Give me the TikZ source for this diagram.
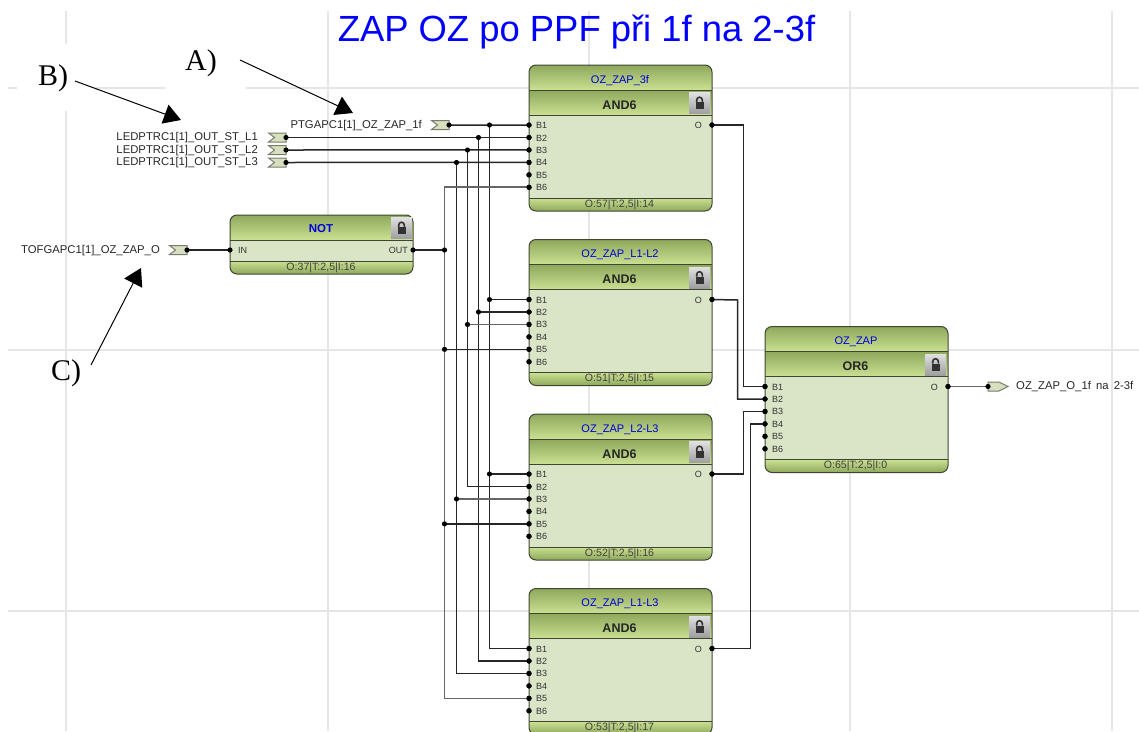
\documentclass[tikz,border=0pt]{standalone}
\usepackage{fontspec}
\setmainfont{Liberation Sans}
\newfontfamily\noteserif{Liberation Serif}
\usetikzlibrary{arrows.meta}

\definecolor{barTop}{RGB}{142,168,92}
\definecolor{barBottom}{RGB}{203,224,146}
\definecolor{bodyGreen}{RGB}{218,228,198}
\definecolor{edgeDark}{RGB}{62,70,50}
\definecolor{gridGray}{RGB}{230,230,230}
\definecolor{flagFill}{RGB}{214,224,190}
\definecolor{flagEdge}{RGB}{120,124,110}

\tikzset{
    blockedge/.style={draw=edgeDark, line width=1pt},
    blocktitle/.style={text=blue!85!black, font=\fontsize{11}{12}\selectfont, inner sep=0pt},
    gatename/.style={font=\bfseries\fontsize{12.5}{13}\selectfont, text=black!85, inner sep=0pt},
    footertext/.style={font=\fontsize{10.6}{11}\selectfont, text=black!75, inner sep=0pt},
    pinlabel/.style={font=\fontsize{9}{10}\selectfont, text=black!80, inner sep=0pt},
    signaltext/.style={font=\fontsize{11.3}{12}\selectfont, text=black!85, inner sep=0pt},
    notetext/.style={font=\noteserif\fontsize{30}{32}\selectfont, inner sep=0pt},
    wire/.style={draw=black!85, line width=1.5pt},
    wiregray/.style={draw=black!60, line width=1.7pt},
    gridline/.style={draw=gridGray, line width=1.6pt},
    flag/.style={fill=flagFill, draw=flagEdge, line width=1pt},
    note/.style={draw=black, line width=1pt, -{Triangle[length=17pt,width=20pt]}},
}

% one dot on a pin or a junction
\newcommand{\dotat}[1]{\fill (#1) circle (2.6pt);}

% lock button, #1 and #2 are the centre
\newcommand{\lockbutton}[2]{
    \shade[top color=black!12, bottom color=black!38] (#1-10.5,#2-10.5) rectangle (#1+10.5,#2+10.5);
    \fill[black!80] (#1-4,#2-1) rectangle (#1+4,#2+6);
    \draw[black!80, line width=1.6pt] (#1-2.8,#2-1) -- (#1-2.8,#2-3) arc[start angle=180, end angle=0, radius=2.8pt] -- (#1+2.8,#2-1);
}

% six input block: name, x, y, title, gate, footer
\newcommand{\logicblock}[6]{
    \begin{scope}[shift={(#2,#3)}]
        \begin{scope}
            \clip[rounded corners=7pt] (0,0) rectangle (183,146);
            \fill[bodyGreen] (0,50) rectangle (183,133);
            \shade[top color=barTop, bottom color=barBottom] (0,0) rectangle (183,25);
            \shade[top color=barTop, bottom color=barBottom] (0,25) rectangle (183,50);
            \shade[top color=barBottom, bottom color=barTop] (0,133) rectangle (183,146);
        \end{scope}
        \draw[blockedge, rounded corners=7pt] (0,0) rectangle (183,146);
        \draw[blockedge] (0,25) -- (183,25);
        \draw[blockedge] (0,50) -- (183,50);
        \draw[blockedge] (0,133) -- (183,133);
        \lockbutton{170.5}{38}
        \node[blocktitle] (#1-title) at (91,15.5) {#4};
        \node[gatename] (#1-gate) at (90.5,40) {#5};
        \node[footertext] (#1-foot) at (90.5,139.5) {#6};
        \foreach \n in {1,...,6} {
            \coordinate (#1-B\n) at (0,47.6+12.45*\n);
            \dotat{#1-B\n}
            \node[pinlabel, anchor=west] (#1-lab\n) at (7,48+12.45*\n) {B\n};
        }
        \coordinate (#1-O) at (183,60);
        \dotat{#1-O}
        \node[pinlabel, anchor=east] (#1-labO) at (173,60.5) {O};
    \end{scope}
}

\begin{document}
\begin{tikzpicture}[x=1pt, y=-1pt]
    \useasboundingbox (0,0) rectangle (1139,731);
    \clip (0,0) rectangle (1139,731);

    % Background grid
    \foreach \x in {328,589,850,1112} {
        \draw[gridline] (\x,11) -- (\x,731);
    }
    \draw[gridline] (66,11) -- (66,44);
    \draw[gridline] (66,111) -- (66,731);
    \draw[gridline] (8,88) -- (17,88);
    \draw[gridline] (95,88) -- (165,88);
    \draw[gridline] (246,88) -- (1139,88);
    \draw[gridline] (8,350) -- (1139,350);
    \draw[gridline] (8,611) -- (1139,611);

    % Title
    \node[text=blue, font=\fontsize{36.4}{38}\selectfont, inner sep=0pt] (title) at (576.5,32) {ZAP OZ po PPF při 1f na 2-3f};

    % Blocks
    \logicblock{and3f}{529}{65}{OZ\_ZAP\_3f}{AND6}{O:57|T:2,5|I:14}
    \logicblock{andLL}{529}{239.5}{OZ\_ZAP\_L1-L2}{AND6}{O:51|T:2,5|I:15}
    \logicblock{andLM}{529}{414}{OZ\_ZAP\_L2-L3}{AND6}{O:52|T:2,5|I:16}
    \logicblock{andLN}{529}{588.5}{OZ\_ZAP\_L1-L3}{AND6}{O:53|T:2,5|I:17}
    \logicblock{orZap}{765}{326.5}{OZ\_ZAP}{OR6}{O:65|T:2,5|I:0}

    % NOT block
    \begin{scope}
        \clip[rounded corners=7pt] (230,215) rectangle (413,274);
        \fill[bodyGreen] (230,240) rectangle (413,261);
        \shade[top color=barTop, bottom color=barBottom] (230,215) rectangle (413,240);
        \shade[top color=barBottom, bottom color=barTop] (230,261) rectangle (413,274);
    \end{scope}
    \draw[blockedge, rounded corners=7pt] (230,215) rectangle (413,274);
    \draw[blockedge] (230,240) -- (413,240);
    \draw[blockedge] (230,261) -- (413,261);
    \lockbutton{401.5}{228}
    \node[blocktitle, font=\bfseries\fontsize{11.5}{12}\selectfont] (notTitle) at (321,228.5) {NOT};
    \node[footertext] (notFoot) at (321,268) {O:37|T:2,5|I:16};
    \node[pinlabel, anchor=west] (notIn) at (238,250.5) {IN};
    \node[pinlabel, anchor=east] (notOut) at (408,250.5) {OUT};
    \coordinate (not-I) at (230,250);
    \coordinate (not-O) at (413,250);

    % Input flags
    \coordinate (ptg) at (449,125);
    \coordinate (led1) at (286,137.5);
    \coordinate (led2) at (286,150);
    \coordinate (led3) at (286,162.5);
    \coordinate (tof) at (187,250);
    \foreach \p in {ptg,led1,led2,led3,tof} {
        \draw[flag] (\p) ++(0,-4.5) -- ++(-17.5,0) -- ++(6,4.5) -- ++(-6,4.5) -- ++(17.5,0) -- cycle;
    }
    \node[signaltext, anchor=east] (ptgText) at (422,126) {PTGAPC1[1]\_OZ\_ZAP\_1f};
    \node[signaltext, anchor=east] (led1Text) at (258,138) {LEDPTRC1[1]\_OUT\_ST\_L1};
    \node[signaltext, anchor=east] (led2Text) at (258,150.5) {LEDPTRC1[1]\_OUT\_ST\_L2};
    \node[signaltext, anchor=east] (led3Text) at (258,163) {LEDPTRC1[1]\_OUT\_ST\_L3};
    \node[signaltext, anchor=east] (tofText) at (160,251) {TOFGAPC1[1]\_OZ\_ZAP\_O};

    % Output flag
    \coordinate (outFlag) at (988,386.5);
    \draw[flag] (outFlag) ++(0,-4.5) -- ++(11,0) -- ++(9,4.5) -- ++(-9,4.5) -- ++(-11,0) -- cycle;
    \node[signaltext, anchor=west] (outText) at (1016,387) {OZ\_ZAP\_O\_1f\hspace{2pt} na\hspace{2pt} 2-3f};

    % Wires from the inputs
    \draw[wire] (tof) -- (not-I);
    \draw[wire] (ptg) -- (and3f-B1);
    \draw[wire] (led1) -- (and3f-B2);
    \draw[wire] (led2) -- (and3f-B3);
    \draw[wire] (led3) -- (and3f-B4);
    \draw[wire] (not-O) -- (444.5,250);

    % Vertical buses
    \coordinate (busA) at (489.5,125);
    \coordinate (busB) at (478.5,137.5);
    \coordinate (busC) at (467.5,150);
    \coordinate (busD) at (456.5,162.5);
    \coordinate (busE) at (444.5,250);
    \draw[wire] (busA) |- (andLN-B1);
    \draw[wire] (busB) |- (andLN-B2);
    \draw[wire] (busC) |- (andLM-B2);
    \draw[wire] (busD) |- (andLN-B3);
    \draw[wiregray] (and3f-B6) -| (busE);
    \draw[wiregray] (busE) |- (andLN-B5);

    % Branches
    \draw[wire] (busA |- andLL-B1) -- (andLL-B1);
    \draw[wire] (busB |- andLL-B2) -- (andLL-B2);
    \draw[wiregray] (busC |- andLL-B3) -- (andLL-B3);
    \draw[wire] (busE |- andLL-B5) -- (andLL-B5);
    \draw[wire] (busA |- andLM-B1) -- (andLM-B1);
    \draw[wiregray] (busD |- andLM-B3) -- (andLM-B3);
    \draw[wire] (busE |- andLM-B5) -- (andLM-B5);

    % Outputs to OR
    \draw[wire] (and3f-O) -- (743.5,125) |- (orZap-B1);
    \draw[wire] (andLL-O) -- (737.5,300) |- (orZap-B2);
    \draw[wire] (andLM-O) -- (743.5,474) |- (orZap-B3);
    \draw[wire] (andLN-O) -- (750.5,648.5) |- (orZap-B4);
    \draw[wiregray] (orZap-O) -- (outFlag);

    % Points
    \foreach \p in {ptg,led1,led2,led3,tof,not-I,not-O,outFlag,busA,busB,busC,busD,busE} {
        \dotat{\p}
    }
    \foreach \p in {and3f,andLL,andLM,andLN,orZap} {
        \foreach \q in {B1,B2,B3,B4,B5,B6,O} {
            \dotat{\p-\q}
        }
    }
    \dotat{busA |- andLL-B1}
    \dotat{busB |- andLL-B2}
    \dotat{busC |- andLL-B3}
    \dotat{busE |- andLL-B5}
    \dotat{busA |- andLM-B1}
    \dotat{busD |- andLM-B3}
    \dotat{busE |- andLM-B5}

    % Annotation
    \node[notetext] (noteA) at (201,63) {A)};
    \node[notetext] (noteB) at (53,78) {B)};
    \node[notetext] (noteC) at (66,373) {C)};
    \coordinate (noteAfrom) at (240,60);
    \coordinate (noteAto) at (353,113);
    \coordinate (noteBfrom) at (75,81);
    \coordinate (noteBto) at (181,120);
    \coordinate (noteCfrom) at (91,365);
    \coordinate (noteCto) at (141,268);
    \draw[note] (noteAfrom) -- (noteAto);
    \draw[note] (noteBfrom) -- (noteBto);
    \draw[note] (noteCfrom) -- (noteCto);
\end{tikzpicture}
\end{document}
